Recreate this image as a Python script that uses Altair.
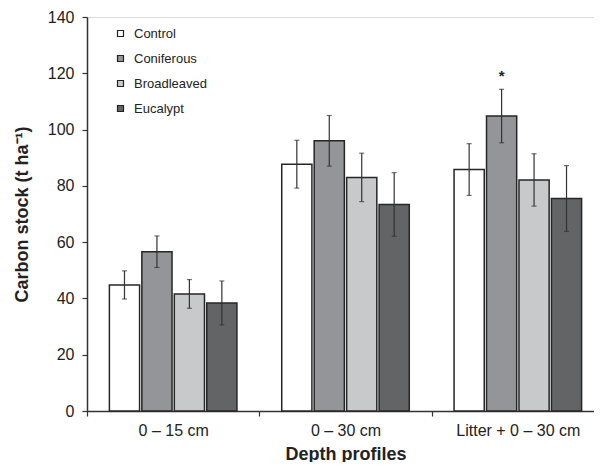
import altair as alt
import pandas as pd

groups = ["0 – 15 cm", "0 – 30 cm", "Litter + 0 – 30 cm"]
series = ["Control", "Coniferous", "Broadleaved", "Eucalypt"]
colors = ["#ffffff", "#939598", "#c8c9cb", "#636466"]

values = {
    "Control":     [44.8, 87.7, 85.8],
    "Coniferous":  [56.6, 96.0, 104.8],
    "Broadleaved": [41.6, 83.0, 82.1],
    "Eucalypt":    [38.4, 73.4, 75.5],
}
errors = {
    "Control":     [5.0, 8.5, 9.2],
    "Coniferous":  [5.6, 9.0, 9.5],
    "Broadleaved": [5.1, 8.6, 9.3],
    "Eucalypt":    [7.8, 11.3, 11.7],
}
significant = [("Litter + 0 – 30 cm", "Coniferous")]

rows = []
for s in series:
    for i, g in enumerate(groups):
        v = values[s][i]
        e = errors[s][i]
        rows.append({"group": g, "series": s, "value": v, "lo": v - e, "hi": v + e,
                     "star": "*" if (g, s) in significant else ""})
df = pd.DataFrame(rows)

FONT = "Liberation Sans"

x = alt.X("group:N", sort=groups,
          scale=alt.Scale(domain=groups, paddingInner=0, paddingOuter=0, range=[0, 517]),
          axis=alt.Axis(title="Depth profiles", labelAngle=0, tickBand="extent",
                        labelFontSize=16, titleFontSize=18, titleFontWeight="bold",
                        labelPadding=6, titlePadding=7, tickSize=5,
                        domainColor="#333333", tickColor="#333333", domainWidth=1.5,
                        tickWidth=1.2, labelColor="#222222", titleColor="#222222",
                        labelFont=FONT, titleFont=FONT))
xo = alt.XOffset("series:N", sort=series,
                 scale=alt.Scale(domain=series, paddingInner=0.07, paddingOuter=0.69))
yscale = alt.Scale(domain=[0, 140], nice=False, zero=True)

base = alt.Chart(df)

bars = base.mark_bar(stroke="#262626", strokeWidth=1.5).encode(
    x=x,
    xOffset=xo,
    y=alt.Y("value:Q", scale=yscale,
            axis=alt.Axis(title="Carbon stock (t ha⁻¹)", values=[0, 20, 40, 60, 80, 100, 120, 140],
                          grid=False, tickSize=5, labelFontSize=16, titleFontSize=18,
                          titleFontWeight="bold", labelPadding=8, titlePadding=16,
                          domainColor="#333333", tickColor="#333333", domainWidth=1.5,
                          tickWidth=1.2, labelColor="#222222", titleColor="#222222",
                          labelFont=FONT, titleFont=FONT)),
    fill=alt.Fill("series:N", sort=series,
                  scale=alt.Scale(domain=series, range=colors),
                  legend=alt.Legend(title=None, orient="none", legendX=27, legendY=10,
                                    symbolType="square", symbolSize=36,
                                    symbolStrokeColor="#222222", symbolStrokeWidth=1.2,
                                    labelFontSize=13, labelFont=FONT, labelColor="#222222",
                                    rowPadding=11, labelOffset=7, padding=0)),
)

rules = base.mark_rule(color="#333333", strokeWidth=1.2).encode(
    x=x, xOffset=xo, y=alt.Y("lo:Q", scale=yscale), y2="hi:Q"
)
cap_lo = base.mark_tick(color="#333333", thickness=1.2, size=5, orient="horizontal").encode(
    x=x, xOffset=xo, y=alt.Y("lo:Q", scale=yscale)
)
cap_hi = base.mark_tick(color="#333333", thickness=1.2, size=5, orient="horizontal").encode(
    x=x, xOffset=xo, y=alt.Y("hi:Q", scale=yscale)
)
star = base.mark_text(font=FONT, fontSize=15, fontWeight="bold", baseline="middle",
                      dy=-13, color="#222222").encode(
    x=x, xOffset=xo, y=alt.Y("hi:Q", scale=yscale), text="star:N"
)

chart = alt.layer(bars, rules, cap_lo, cap_hi, star).properties(
    width=507, height=394,
    autosize=alt.AutoSizeParams(type="none"),
    padding={"left": 79, "top": 9, "right": 0, "bottom": 51},
).configure_view(stroke=None).configure(background="white")

chart.save("out.html", embed_options={"renderer": "svg", "actions": False})
